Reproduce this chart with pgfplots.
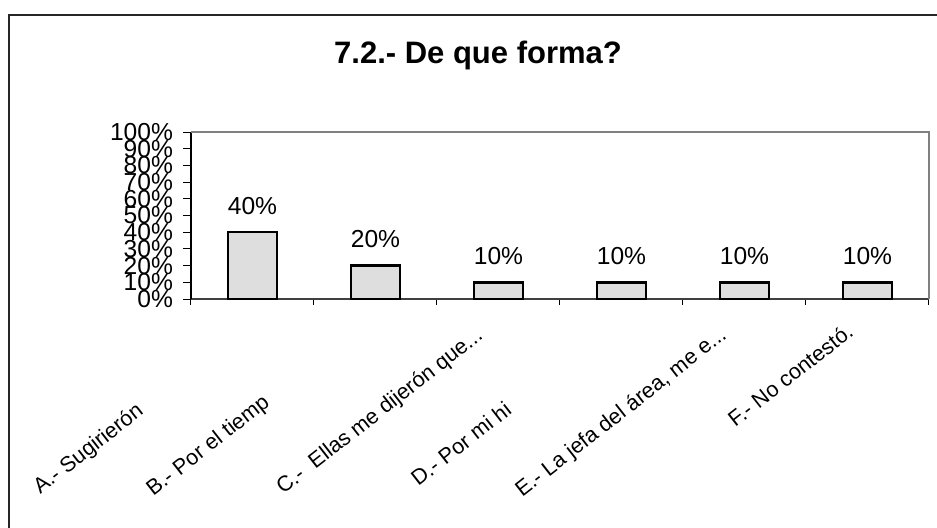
\documentclass[border=0pt]{standalone}
\usepackage{pgfplots}
\pgfplotsset{compat=1.18}
\usepackage{fontspec}
\setmainfont{Liberation Sans}

\begin{document}
\begin{tikzpicture}
\useasboundingbox (-95.5pt,-114pt) rectangle (373pt,149.5pt);
% outer chart frame (only top and left edges visible)
\draw[line width=1pt, black!85] (-91pt,-120pt) -- (-91pt,142pt) -- (380pt,142pt);

\begin{axis}[
    at={(0,0)}, anchor=south west,
    scale only axis,
    width=369pt, height=83.5pt,
    ybar, bar width=24.5pt,
    xmin=-0.5, xmax=5.5,
    ymin=0, ymax=100,
    axis lines*=left,
    x axis line style={black!75, line width=0.8pt},
    y axis line style={black, line width=0.6pt},
    xtick={-0.5,0.5,...,5.5},
    xticklabels={},
    ytick={0,10,...,100},
    yticklabels={0\%,10\%,20\%,30\%,40\%,50\%,60\%,70\%,80\%,90\%,100\%},
    tick align=outside,
    major tick length=4pt,
    xtick style={black, line width=0.5pt, /pgfplots/major tick length=3pt},
    ytick style={black, line width=0.5pt},
    yticklabel style={font=\fontsize{12.3}{12}\selectfont, xshift=-1.5pt},
    /pgf/number format/assume math mode=true,
    nodes near coords={\pgfmathprintnumber{\pgfplotspointmeta}\%},
    nodes near coords style={font=\fontsize{12.3}{12}\selectfont, yshift=5pt},
    clip=false,
]
\addplot[fill=black!13, draw=black, line width=1.2pt]
    coordinates {(0,40) (1,20) (2,10) (3,10) (4,10) (5,10)};
\draw[black!50, line width=0.8pt] (rel axis cs:0,1) -- (rel axis cs:1,1) -- (rel axis cs:1,0);
\end{axis}

\node[font=\bfseries\fontsize{15.5}{16}\selectfont, anchor=base] at (143.5pt,118pt) {7.2.- De que forma?};

% rotated category labels (as cut in the original)
\begin{scope}[every node/.style={rotate=38, anchor=base west, inner sep=0pt, font=\fontsize{10.8}{10}\selectfont}]
\node at (-75.5pt,-98pt) {A.- Sugirierón};
\node at (-19pt,-99pt) {B.- Por el tiemp};
\node at (46pt,-98pt) {C.-\ \ Ellas me dijerón que...};
\node at (113.5pt,-94pt) {D.- Por mi hi};
\node at (165.5pt,-99.5pt) {E.- La jefa del área, me e...};
\node at (272pt,-64.5pt) {F.- No contestó.};
\end{scope}
\end{tikzpicture}
\end{document}
